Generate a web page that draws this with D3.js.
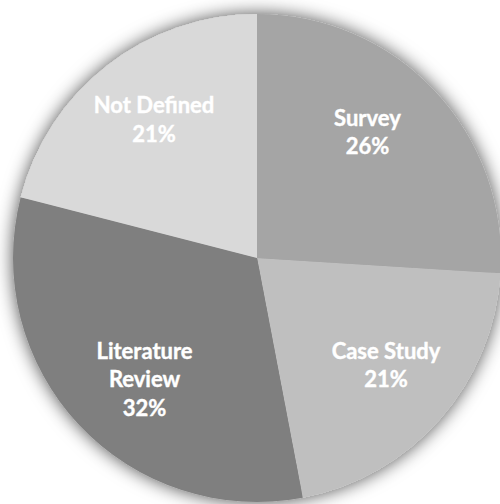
<!DOCTYPE html>
<html>
<head>
<meta charset="utf-8">
<script src="https://cdn.jsdelivr.net/npm/d3@7"></script>
<style>
  html, body { margin: 0; padding: 0; background: #ffffff; }
  svg { display: block; }
</style>
</head>
<body>
<svg id="chart" width="500" height="504"></svg>
<script>
// Research method shares
const categories = ["Survey", "Case Study", "Literature Review", "Not Defined"];
const values = [26, 21, 32, 21];
const colors = ["#a5a5a5", "#bfbfbf", "#7f7f7f", "#d9d9d9"];
// label lines per slice (category text may wrap)
const labelLines = [["Survey"], ["Case Study"], ["Literature", "Review"], ["Not Defined"]];
// small per-label shifts from the slice centroid (px)
const labelShift = [[-12, -12], [3, -5], [10, 5], [0, -7]];

const width = 500, height = 504;
const cx = 257, cy = 258, radius = 244;
const labelRadius = 168;

const svg = d3.select("#chart");

// soft shadow around the pie
const defs = svg.append("defs");
const filter = defs.append("filter")
  .attr("id", "glow")
  .attr("x", "-20%").attr("y", "-20%")
  .attr("width", "140%").attr("height", "140%");
filter.append("feGaussianBlur").attr("in", "SourceAlpha").attr("stdDeviation", 9).attr("result", "blur");
filter.append("feFlood").attr("flood-color", "#000").attr("flood-opacity", 0.7).attr("result", "col");
filter.append("feComposite").attr("in", "col").attr("in2", "blur").attr("operator", "in").attr("result", "shadow");
const merge = filter.append("feMerge");
merge.append("feMergeNode").attr("in", "shadow");
merge.append("feMergeNode").attr("in", "SourceGraphic");

const data = categories.map((c, i) => ({ name: c, value: values[i], color: colors[i], lines: labelLines[i], shift: labelShift[i] }));

const pie = d3.pie().value(d => d.value).sort(null);
const arcs = pie(data);
const total = d3.sum(values);

const arc = d3.arc().innerRadius(0).outerRadius(radius);
const labelArc = d3.arc().innerRadius(labelRadius).outerRadius(labelRadius);

const g = svg.append("g").attr("transform", `translate(${cx},${cy})`);

const slices = g.append("g").attr("filter", "url(#glow)");
slices.selectAll("path")
  .data(arcs)
  .join("path")
  .attr("d", arc)
  .attr("fill", d => d.data.color);

const lineHeight = 28.5;
const labels = g.append("g")
  .attr("font-family", "Lato, 'Open Sans', sans-serif")
  .attr("font-weight", 700)
  .attr("font-size", 22)
  .attr("fill", "#ffffff")
  .attr("stroke", "#ffffff")
  .attr("stroke-width", 0.4)
  .attr("text-anchor", "middle");

arcs.forEach(d => {
  const [x0, y0] = labelArc.centroid(d);
  const x = x0 + d.data.shift[0], y = y0 + d.data.shift[1];
  const lines = d.data.lines.concat([Math.round(d.data.value / total * 100) + "%"]);
  const startY = y - (lines.length - 1) * lineHeight / 2;
  const t = labels.append("text")
    .attr("x", x)
    .attr("y", startY)
    .attr("dominant-baseline", "central");
  lines.forEach((ln, i) => {
    t.append("tspan").attr("x", x).attr("y", startY + i * lineHeight).text(ln);
  });
});
</script>
</body>
</html>
